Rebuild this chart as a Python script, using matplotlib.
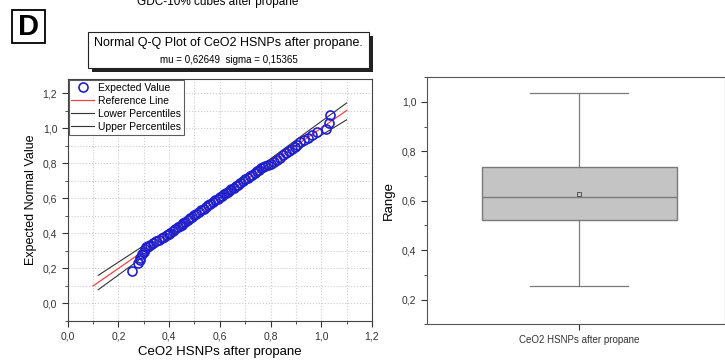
import matplotlib
matplotlib.use("Agg")
from matplotlib import pyplot as plt
from matplotlib.ticker import MultipleLocator, FuncFormatter
from matplotlib.patches import Rectangle

plt.rcParams['font.family'] = ['Liberation Sans', 'DejaVu Sans']

# Q-Q data: observed value (x) vs expected normal value (y)
qq_x = [0.253, 0.279, 0.285, 0.287, 0.293, 0.299, 0.305, 0.309, 0.318, 0.326,
        0.338, 0.350, 0.362, 0.372, 0.381, 0.391, 0.398, 0.405, 0.414, 0.424,
        0.434, 0.442, 0.450, 0.456, 0.464, 0.474, 0.482, 0.491, 0.499, 0.508,
        0.518, 0.527, 0.536, 0.545, 0.554, 0.563, 0.572, 0.582, 0.592, 0.600,
        0.608, 0.616, 0.624, 0.632, 0.640, 0.646, 0.654, 0.662, 0.671, 0.681,
        0.692, 0.701, 0.710, 0.719, 0.728, 0.738, 0.747, 0.756, 0.764, 0.772,
        0.780, 0.790, 0.800, 0.812, 0.826, 0.838, 0.850, 0.862, 0.872, 0.884,
        0.895, 0.906, 0.918, 0.932, 0.947, 0.964, 0.985, 1.020, 1.029, 1.036]
qq_y = [0.183, 0.230, 0.248, 0.262, 0.280, 0.296, 0.310, 0.322, 0.330, 0.336,
        0.346, 0.356, 0.364, 0.372, 0.380, 0.390, 0.397, 0.404, 0.414, 0.424,
        0.434, 0.442, 0.450, 0.458, 0.466, 0.476, 0.485, 0.494, 0.503, 0.513,
        0.523, 0.532, 0.541, 0.550, 0.559, 0.568, 0.578, 0.588, 0.598, 0.606,
        0.614, 0.622, 0.630, 0.638, 0.646, 0.652, 0.660, 0.668, 0.677, 0.687,
        0.698, 0.707, 0.716, 0.725, 0.734, 0.744, 0.753, 0.762, 0.770, 0.776,
        0.782, 0.790, 0.798, 0.808, 0.820, 0.832, 0.844, 0.857, 0.868, 0.882,
        0.894, 0.906, 0.918, 0.932, 0.946, 0.960, 0.978, 0.994, 1.028, 1.076]

ref_x = [0.10, 1.10]
ref_y = [0.10, 1.10]
band_x = [0.12, 0.30, 0.45, 0.63, 0.80, 0.95, 1.10]
band_upper = [0.160, 0.330, 0.472, 0.650, 0.825, 0.985, 1.143]
band_lower = [0.078, 0.268, 0.428, 0.610, 0.775, 0.915, 1.047]

# box plot summary
box_label = "CeO2 HSNPs after propane"
box_min, box_q1, box_med, box_q3, box_max = 0.255, 0.522, 0.616, 0.735, 1.035
box_mean = 0.626

comma = FuncFormatter(lambda v, p: "{:.1f}".format(v).replace(".", ","))

fig = plt.figure(figsize=(7.25, 3.6), dpi=100)

# ---- Q-Q plot ----
ax = fig.add_axes([0.0934, 0.1083, 0.4196, 0.6723])
ax.plot(qq_x, qq_y, 'o', mfc='none', mec='#2020cc', mew=1.2, ms=6.5,
        label="Expected Value", zorder=3)
ax.plot(ref_x, ref_y, color='#ee4444', lw=0.9, label="Reference Line", zorder=2)
ax.plot(band_x, band_lower, color='#333333', lw=0.8, label="Lower Percentiles", zorder=2)
ax.plot(band_x, band_upper, color='#333333', lw=0.8, label="Upper Percentiles", zorder=2)
ax.set_xlim(0, 1.2)
ax.set_ylim(-0.1, 1.28)
ax.xaxis.set_major_locator(MultipleLocator(0.2))
ax.xaxis.set_minor_locator(MultipleLocator(0.1))
ax.yaxis.set_major_locator(MultipleLocator(0.2))
ax.yaxis.set_minor_locator(MultipleLocator(0.1))
ax.xaxis.set_major_formatter(comma)
ax.yaxis.set_major_formatter(comma)
ax.grid(which='both', color='#cccccc', ls=':', lw=0.8)
ax.tick_params(which='both', direction='out', labelsize=7.5, colors='#333333')
ax.tick_params(which='major', length=4)
ax.tick_params(which='minor', length=2.5)
for s in ax.spines.values():
    s.set_color('#444444')
ax.set_xlabel("CeO2 HSNPs after propane", fontsize=9.5, labelpad=3)
ax.set_ylabel("Expected Normal Value", fontsize=9, labelpad=4)
leg = ax.legend(loc='upper left', fontsize=7.5, frameon=True, fancybox=False,
                borderaxespad=0.1, handlelength=2.2, handletextpad=0.4,
                labelspacing=0.3, borderpad=0.25)
leg.get_frame().set_edgecolor('#333333')
leg.get_frame().set_linewidth(0.8)

# title box with shadow
fig.patches.append(Rectangle((91.5 / 725, 1 - 71.5 / 360), 281 / 725, 36 / 360,
                             transform=fig.transFigure, fc='#222222', ec='none'))
fig.patches.append(Rectangle((88.3 / 725, 1 - 68.3 / 360), 281 / 725, 36 / 360,
                             transform=fig.transFigure, fc='white', ec='#222222', lw=0.8))
fig.text(228.5 / 725, 1 - 43 / 360, "Normal Q-Q Plot of CeO2 HSNPs after propane.",
         ha='center', va='center', fontsize=9)
fig.text(228.5 / 725, 1 - 60 / 360, "mu = 0,62649  sigma = 0,15365",
         ha='center', va='center', fontsize=7)

# panel letter and cut-off heading
fig.patches.append(Rectangle((11.7 / 725, 1 - 43.3 / 360), 33.3 / 725, 33.3 / 360,
                             transform=fig.transFigure, fc='white', ec='black', lw=1.3))
fig.text(28.3 / 725, 1 - 27 / 360, "D", ha='center', va='center', fontsize=21,
         fontweight='bold')
fig.text(218 / 725, 1 - 5.5 / 360, "GDC-10% cubes after propane", ha='center',
         va='baseline', fontsize=8.5)

# ---- box plot ----
bx = fig.add_axes([0.5885, 0.0992, 0.4110, 0.6861])
bx.bxp([dict(med=box_med, q1=box_q1, q3=box_q3, whislo=box_min, whishi=box_max,
             mean=box_mean, fliers=[], label=box_label)],
       positions=[0], widths=0.64, patch_artist=True, showmeans=True,
       boxprops=dict(facecolor='#c4c4c4', edgecolor='#7a7a7a', lw=1.0),
       medianprops=dict(color='#7a7a7a', lw=1.0),
       whiskerprops=dict(color='#7a7a7a', lw=0.9),
       capprops=dict(color='#7a7a7a', lw=0.9),
       capwidths=0.32,
       meanprops=dict(marker='s', ms=3, mfc='none', mec='#555555', mew=0.7))
bx.set_xlim(-0.5, 0.477)
bx.set_ylim(0.1, 1.1)
bx.yaxis.set_major_locator(MultipleLocator(0.2))
bx.yaxis.set_minor_locator(MultipleLocator(0.1))
bx.yaxis.set_major_formatter(comma)
bx.tick_params(which='both', direction='out', labelsize=7.5, colors='#333333')
bx.tick_params(axis='x', labelsize=7)
bx.tick_params(which='major', length=4)
bx.tick_params(which='minor', length=2.5)
for s in bx.spines.values():
    s.set_color('#555555')
bx.set_ylabel("Range", fontsize=9.5, labelpad=5)

fig.savefig("out.png", dpi=100)
